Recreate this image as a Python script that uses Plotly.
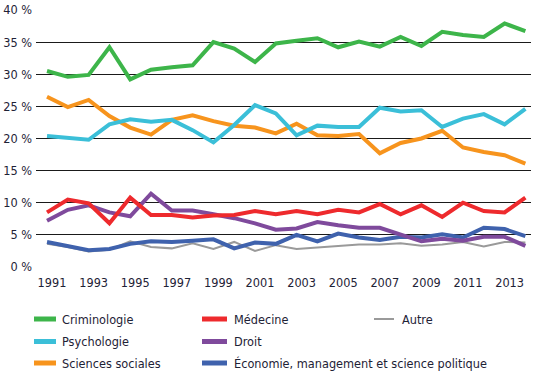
import plotly.graph_objects as go

years = list(range(1991, 2015))

criminologie = [30.5, 29.6, 29.9, 34.2, 29.2, 30.7, 31.1, 31.4, 35.0, 34.0, 31.9, 34.8,
                35.2, 35.6, 34.2, 35.1, 34.3, 35.8, 34.4, 36.6, 36.1, 35.8, 37.9, 36.7]
psychologie = [20.4, 20.1, 19.8, 22.2, 23.0, 22.6, 22.9, 21.3, 19.4, 22.1, 25.2, 23.9,
               20.5, 22.0, 21.8, 21.8, 24.8, 24.2, 24.4, 21.8, 23.1, 23.8, 22.2, 24.6]
sciences_sociales = [26.5, 24.9, 26.0, 23.5, 21.7, 20.6, 22.9, 23.6, 22.7, 22.0, 21.7, 20.8,
                     22.3, 20.5, 20.4, 20.7, 17.7, 19.3, 20.0, 21.2, 18.6, 17.9, 17.4, 16.1]
medecine = [8.5, 10.5, 9.9, 6.8, 10.8, 8.1, 8.1, 7.7, 8.0, 8.1, 8.7, 8.2,
            8.7, 8.2, 8.9, 8.5, 9.8, 8.2, 9.6, 7.8, 10.0, 8.7, 8.5, 10.8]
droit = [7.2, 8.9, 9.6, 8.5, 7.9, 11.4, 8.8, 8.8, 8.2, 7.6, 6.8, 5.8,
         6.0, 7.0, 6.5, 6.1, 6.1, 5.0, 4.0, 4.4, 4.1, 4.7, 4.7, 3.3]
economie = [3.9, 3.3, 2.6, 2.8, 3.6, 4.0, 3.9, 4.1, 4.3, 2.9, 3.8, 3.6,
            5.0, 4.0, 5.2, 4.6, 4.2, 4.7, 4.6, 5.1, 4.6, 6.1, 5.9, 4.8]
autre = [3.6, 3.1, 2.4, 2.7, 4.0, 3.1, 2.9, 3.7, 2.8, 3.9, 2.5, 3.4,
         2.8, 3.0, 3.3, 3.5, 3.5, 3.7, 3.3, 3.5, 3.9, 3.2, 3.9, 3.8]

y_ticks = [0, 5, 10, 15, 20, 25, 30, 35, 40]
y_tick_labels = [f"{v} %" for v in y_ticks]
x_ticks = list(range(1991, 2015, 2))

FONT = "DejaVu Sans Condensed, Liberation Sans Narrow, sans-serif"
TXT = "#1e2236"
FS = 12.6

# name, values, color, width, legend row, legend column
series = [
    ("Criminologie", criminologie, "#3db54a", 4, 0, 0),
    ("Médecine", medecine, "#ee2a2d", 4, 0, 1),
    ("Autre", autre, "#9a9a9a", 2, 0, 2),
    ("Psychologie", psychologie, "#3bbfd8", 4, 1, 0),
    ("Droit", droit, "#7f4a9c", 4, 1, 1),
    ("Sciences sociales", sciences_sociales, "#f7941d", 4, 2, 0),
    ("Économie, management et science politique", economie, "#3f62ad", 4, 2, 1),
]

draw_order = ["Autre", "Économie, management et science politique", "Droit", "Médecine",
              "Sciences sociales", "Psychologie", "Criminologie"]
lookup = {s[0]: s for s in series}

W, H = 540, 375
ML, MR, MT, MB = 36, 9, 10, 108
PW, PH = W - ML - MR, H - MT - MB

fig = go.Figure()
for name in draw_order:
    _, vals, color, w, _r, _c = lookup[name]
    fig.add_trace(go.Scatter(
        x=years, y=vals, mode="lines", name=name,
        line=dict(color=color, width=w), showlegend=False,
    ))

# manual legend (pixel layout converted to paper coordinates)
row_px = [319, 341.5, 363]
col_line = [(34, 56), (202, 227), (374, 394)]
col_text = [60, 232, 400]
def px_x(px):
    return (px - ML) / PW
def px_y(py):
    return (H - MB - py) / PH

shapes = []
annotations = []
for name, _v, color, w, r, c in series:
    x0, x1 = col_line[c]
    yy = px_y(row_px[r])
    shapes.append(dict(type="line", xref="paper", yref="paper",
                       x0=px_x(x0), x1=px_x(x1), y0=yy, y1=yy,
                       line=dict(color=color, width=w + (1 if w > 2 else 0))))
    annotations.append(dict(xref="paper", yref="paper", x=px_x(col_text[c]), y=yy,
                            xanchor="left", yanchor="middle", showarrow=False,
                            text=name, font=dict(family=FONT, size=FS, color=TXT)))

fig.update_layout(
    width=W, height=H,
    margin=dict(l=ML, r=MR, t=MT, b=MB, autoexpand=False),
    paper_bgcolor="white", plot_bgcolor="white",
    font=dict(family=FONT, size=FS, color=TXT),
    xaxis=dict(
        range=[1990.47, 2014.27], tickvals=x_ticks, ticktext=[str(v) for v in x_ticks],
        showgrid=False, zeroline=False, showline=False, ticks="",
        ticklabelshift=5, ticklabelstandoff=6, automargin=False,
    ),
    yaxis=dict(
        range=[0, 40], tickvals=y_ticks, ticktext=y_tick_labels,
        showgrid=True, gridcolor="#1a1a1a", gridwidth=1.2, zeroline=False,
        ticks="", ticklabelstandoff=3, automargin=False,
    ),
    shapes=shapes,
    annotations=annotations,
    showlegend=False,
)

fig.write_html("out.html",
               config={"displayModeBar": False},
               post_script="document.body.style.margin='0';document.body.style.overflow='hidden';")
